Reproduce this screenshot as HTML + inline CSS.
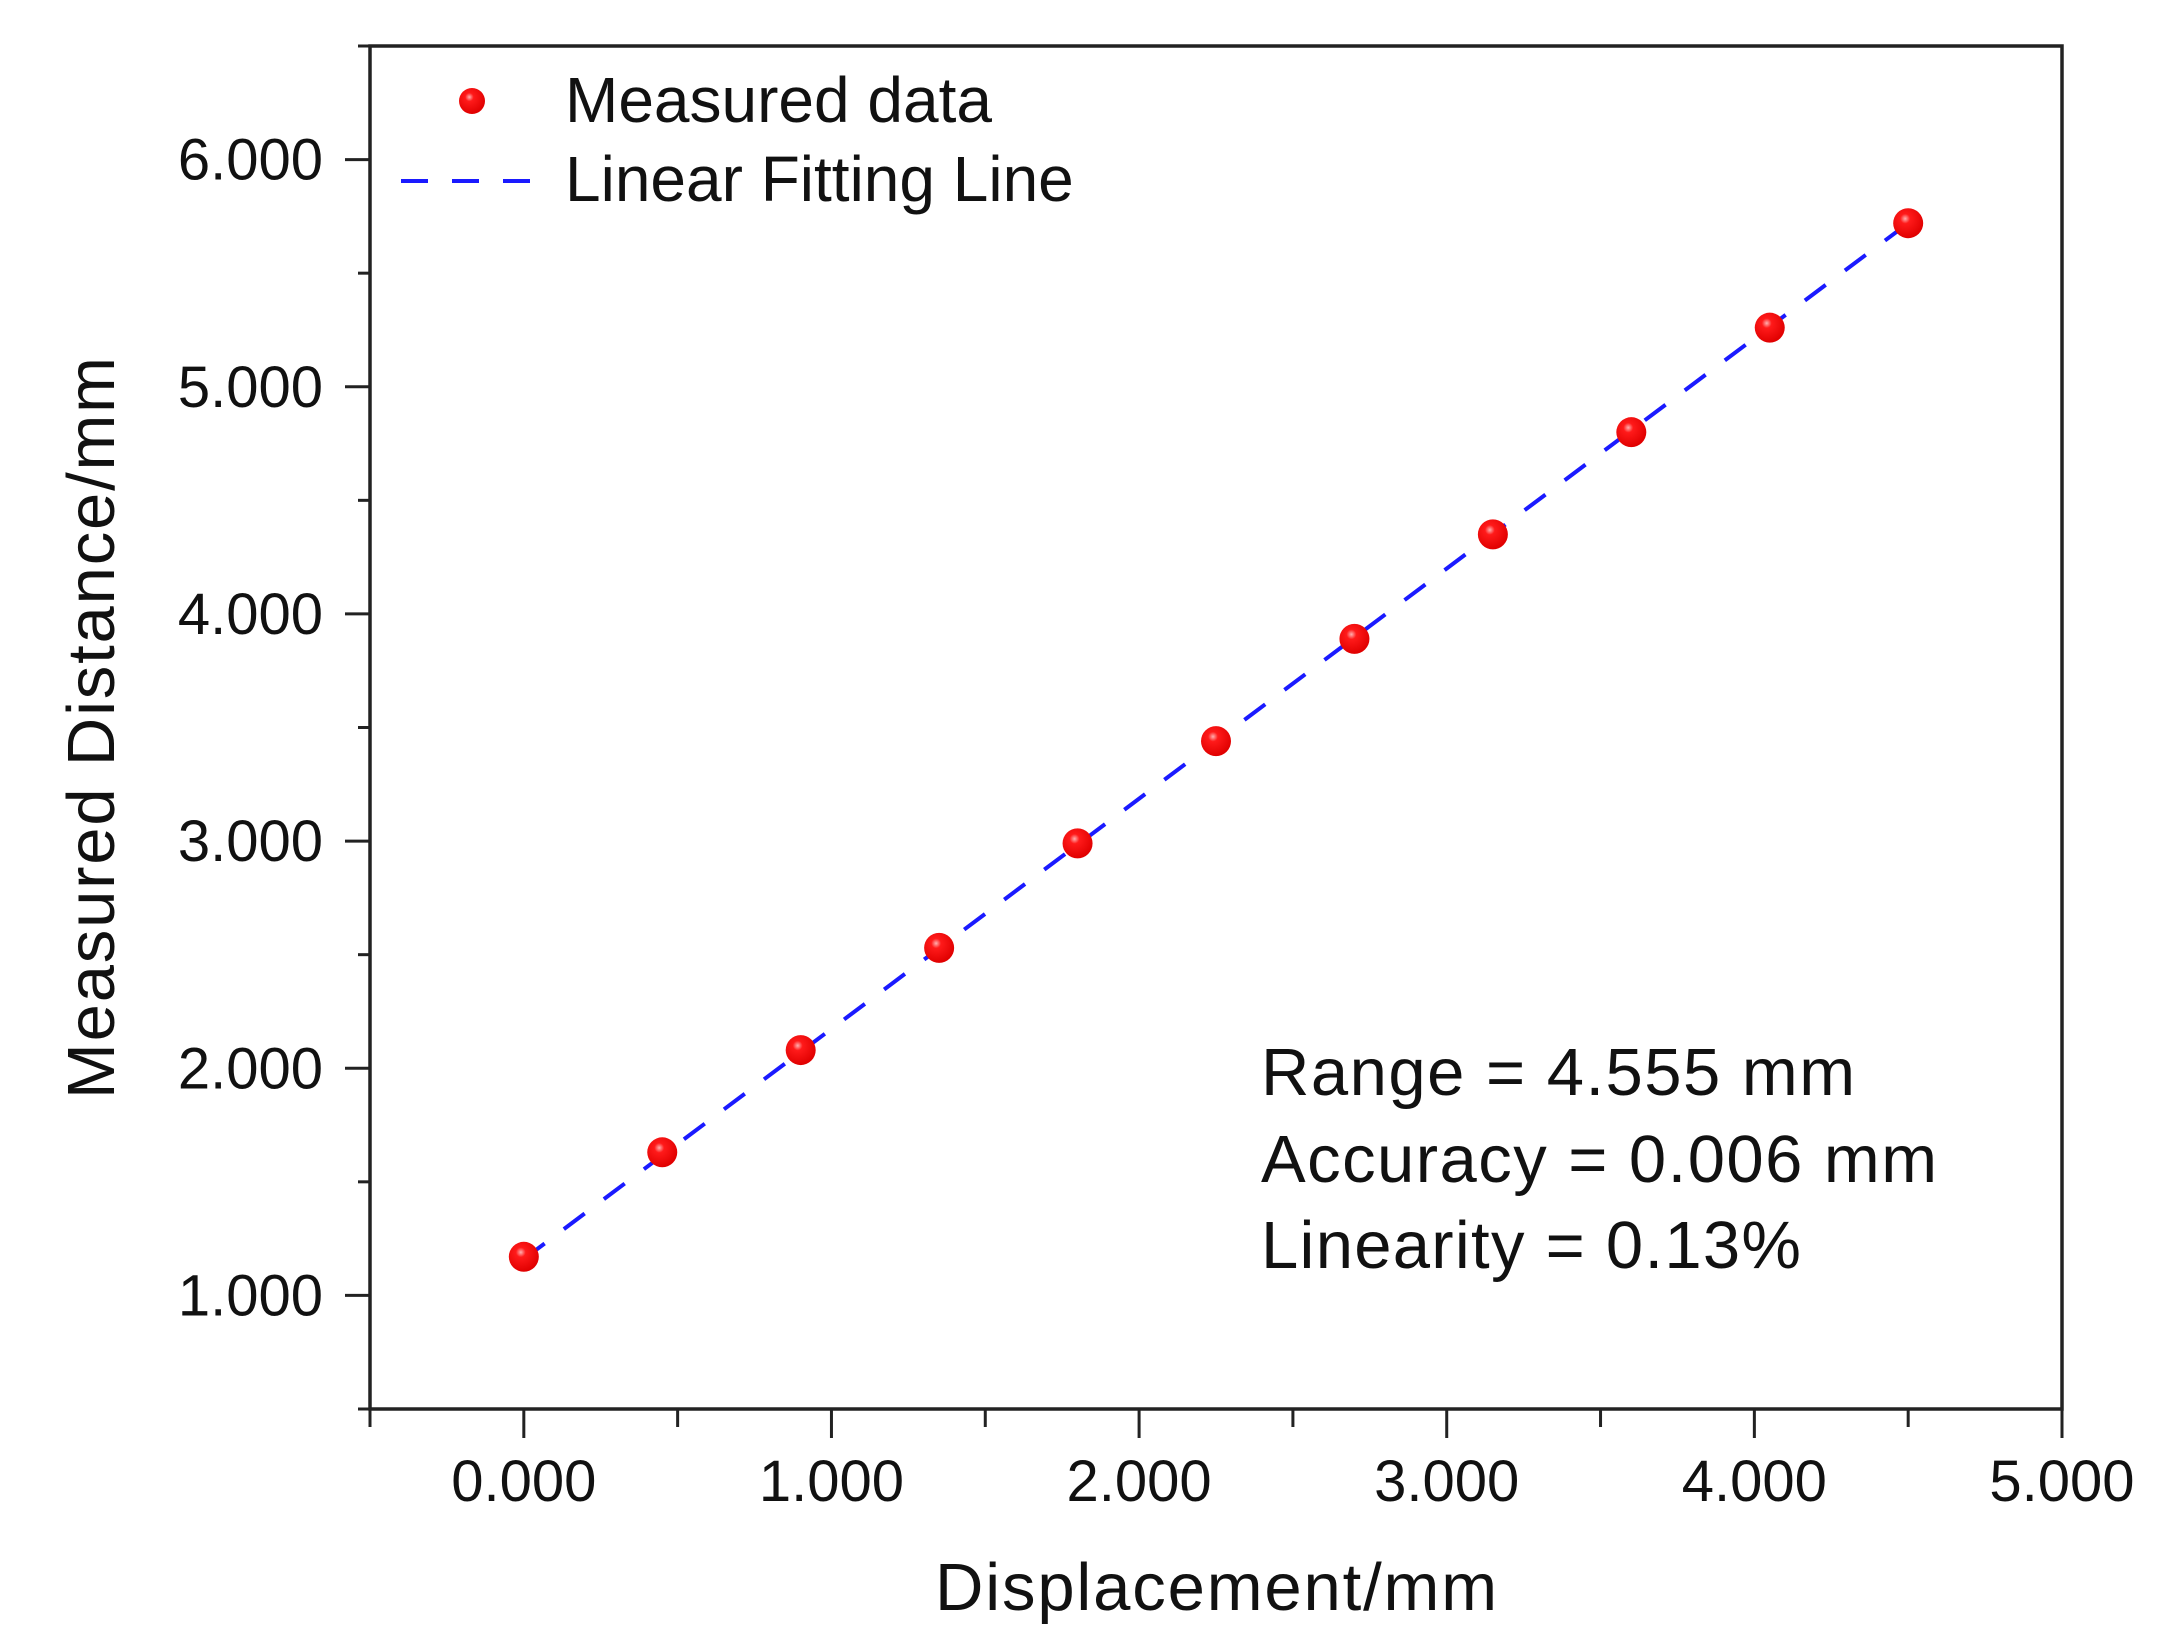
<!DOCTYPE html>
<html><head><meta charset="utf-8"><style>
html,body{margin:0;padding:0;background:#fff;}
svg{display:block;font-family:"Liberation Sans",Arial,sans-serif;}
</style></head><body>
<svg id="chart" width="2178" height="1644" viewBox="0 0 2178 1644" xmlns="http://www.w3.org/2000/svg">
<defs>
<radialGradient id="ball" cx="0.4" cy="0.35" r="0.65">
<stop offset="0" stop-color="#ffb0b0"/><stop offset="0.25" stop-color="#ff1a1a"/><stop offset="1" stop-color="#e00000"/>
</radialGradient>
</defs>
<g id="grid"></g>
</svg>
<script>
const xValues = [0, 0.45, 0.9, 1.35, 1.8, 2.25, 2.7, 3.15, 3.6, 4.05, 4.5];
const yValues = [1.17, 1.63, 2.08, 2.53, 2.99, 3.44, 3.89, 4.35, 4.80, 5.26, 5.72];
const fitX = [0, 4.5];
const fitY = [1.16, 5.72];
const xTicks = [0, 1, 2, 3, 4, 5];
const xTickLabels = ["0.000", "1.000", "2.000", "3.000", "4.000", "5.000"];
const yTicks = [1, 2, 3, 4, 5, 6];
const yTickLabels = ["1.000", "2.000", "3.000", "4.000", "5.000", "6.000"];

const L = 370, R = 2062, T = 46, B = 1409;
const xMin = -0.5, xMax = 5, yMin = 0.5, yMax = 6.5;
const sx = v => L + (v - xMin) / (xMax - xMin) * (R - L);
const sy = v => B - (v - yMin) / (yMax - yMin) * (B - T);
const NS = "http://www.w3.org/2000/svg";
const svg = document.getElementById('chart');
function mk(tag, attrs, parent) {
  const e = document.createElementNS(NS, tag);
  for (const k in attrs) e.setAttribute(k, attrs[k]);
  (parent || svg).appendChild(e);
  return e;
}
let e;
e = mk('rect', {x: L, y: T, width: R - L, height: B - T, fill: 'none', stroke: '#222', 'stroke-width': 3.5});



for (let v = -0.5; v <= 5.0001; v += 0.5) {
  const major = Math.abs(v - Math.round(v)) < 1e-6;
  e = mk('line', {x1: sx(v), x2: sx(v), y1: B, y2: B + (major ? 29 : 18), stroke: '#222', 'stroke-width': 3});
  
  
}
xTicks.forEach((v, i) => {
  e = mk('text', {x: sx(v), y: 1501, 'font-size': 58, 'text-anchor': 'middle', fill: '#111'});
  e.textContent = xTickLabels[i];
  
  
});
for (let v = 0.5; v <= 6.5001; v += 0.5) {
  const major = Math.abs(v - Math.round(v)) < 1e-6;
  e = mk('line', {x1: L - (major ? 25 : 12), x2: L, y1: sy(v), y2: sy(v), stroke: '#222', 'stroke-width': 3});
  
  
}
yTicks.forEach((v, i) => {
  e = mk('text', {x: 323, y: sy(v) + 20, 'font-size': 58, 'text-anchor': 'end', fill: '#111'});
  e.textContent = yTickLabels[i];
  
  
});
e = mk('text', {x: 1216, y: 1610, 'font-size': 67, 'text-anchor': 'middle', fill: '#111', textLength: 562});
e.textContent = 'Displacement/mm';


e = mk('text', {x: 0, y: 0, 'font-size': 67, 'text-anchor': 'middle', fill: '#111', textLength: 742, transform: 'translate(114,728) rotate(-90)'});
e.textContent = 'Measured Distance/mm';



e = mk('line', {x1: sx(fitX[0]), y1: sy(fitY[0]), x2: sx(fitX[1]), y2: sy(fitY[1]), stroke: '#1a1aff', 'stroke-width': 4, 'stroke-dasharray': '26 24'});


xValues.forEach((x, i) => {
  e = mk('circle', {cx: sx(x), cy: sy(yValues[i]), r: 15, fill: 'url(#ball)'});
  
  
});

e = mk('circle', {cx: 472, cy: 101, r: 13, fill: 'url(#ball)'});


e = mk('text', {x: 565, y: 122, 'font-size': 64, fill: '#111'});
e.textContent = 'Measured data';


e = mk('line', {x1: 401, x2: 530, y1: 181, y2: 181, stroke: '#1a1aff', 'stroke-width': 4, 'stroke-dasharray': '27 24'});


e = mk('text', {x: 565, y: 201, 'font-size': 64, fill: '#111'});
e.textContent = 'Linear Fitting Line';



const ann = [['Range = 4.555 mm', 1095, 594], ['Accuracy = 0.006 mm', 1182, 676], ['Linearity = 0.13%', 1268, 540]];
ann.forEach(a => {
  e = mk('text', {x: 1261, y: a[1], 'font-size': 67, fill: '#111', textLength: a[2]});
  e.textContent = a[0];
  
  
});
</script>
</body></html>
